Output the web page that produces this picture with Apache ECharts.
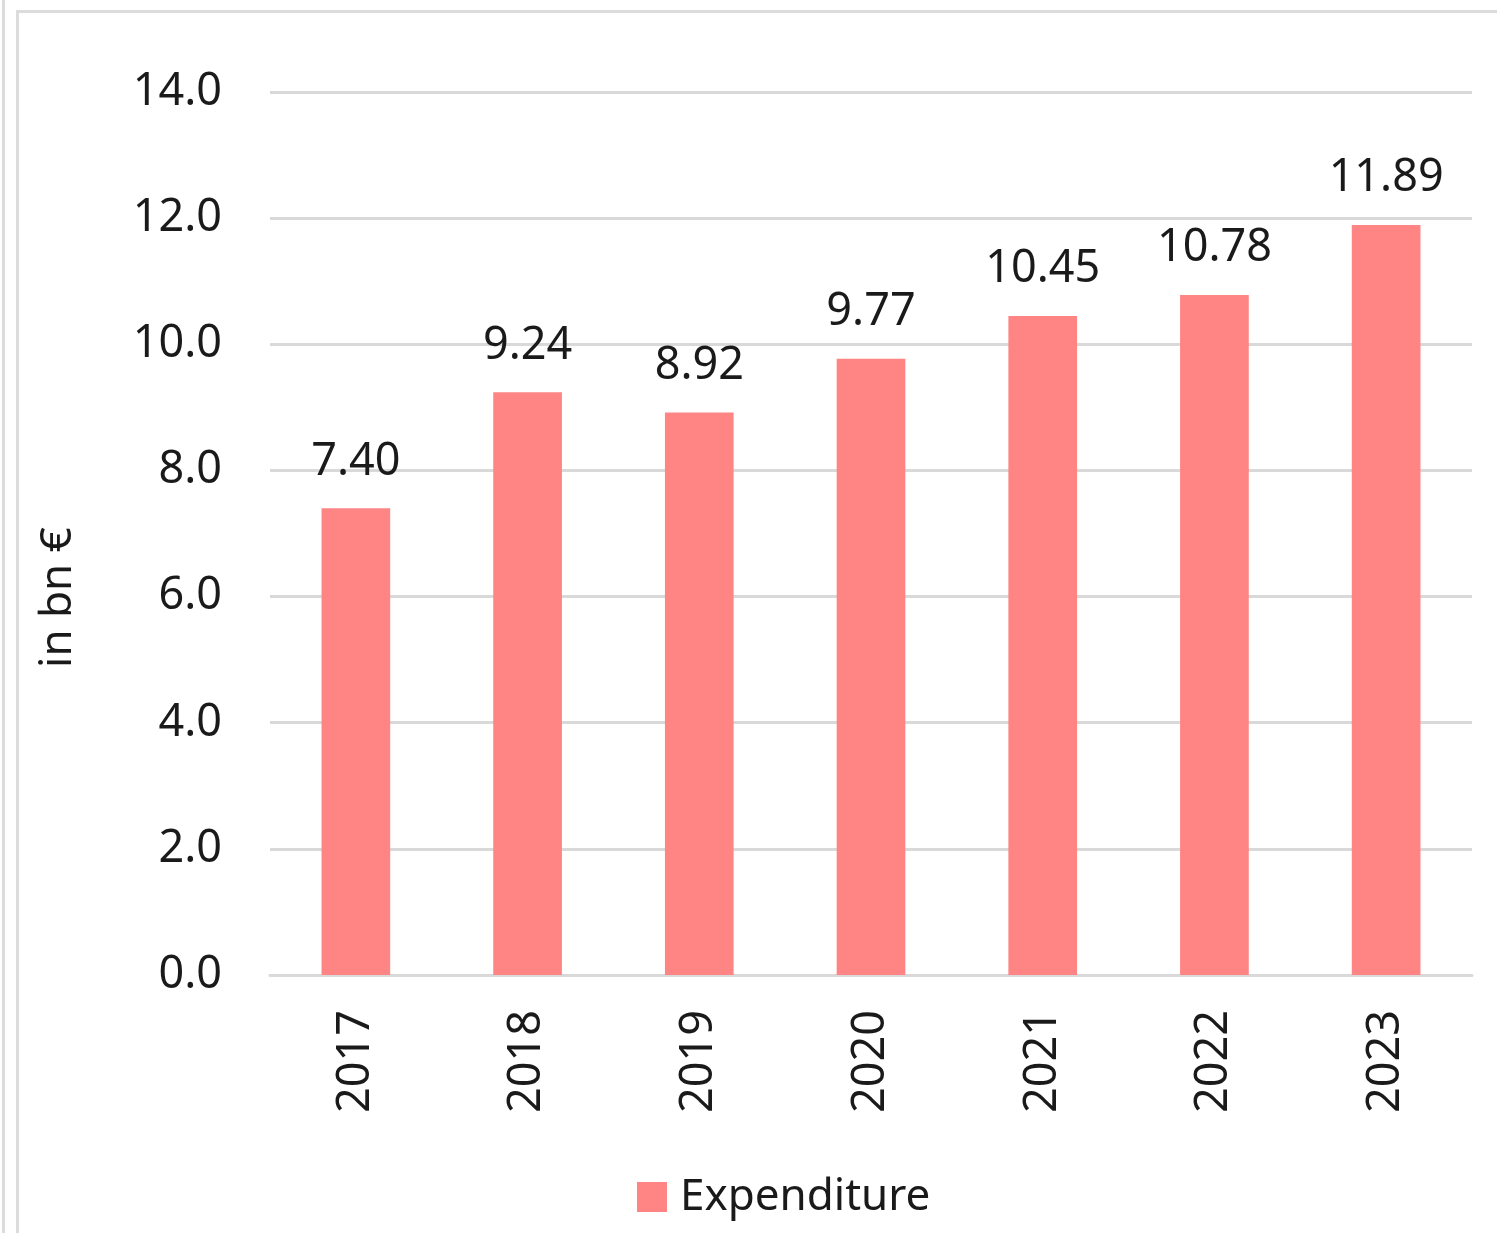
<!DOCTYPE html>
<html>
<head>
<meta charset="utf-8">
<script src="https://cdn.jsdelivr.net/npm/echarts@6/dist/echarts.min.js"></script>
<style>
  html, body { margin: 0; padding: 0; background: #fff; }
  #main { width: 1497px; height: 1233px; }
  .edge { position: absolute; background: #dcdcdc; }
</style>
</head>
<body>
<div id="main"></div>
<div class="edge" style="left:2px;top:0;width:3px;height:1233px;"></div>
<div class="edge" style="left:16px;top:10px;width:3px;height:1223px;"></div>
<div class="edge" style="left:16px;top:10px;width:1481px;height:3px;"></div>
<script>
// values
const years = ['2017', '2018', '2019', '2020', '2021', '2022', '2023'];
const expenditure = [7.40, 9.24, 8.92, 9.77, 10.45, 10.78, 11.89];

const font = 'Noto Sans';
let chart = echarts.init(document.getElementById('main'));
let option = {
  animation: false,
  legend: {
    left: 632,
    top: 1170,
    itemWidth: 30,
    itemHeight: 30,
    icon: 'rect',
    textStyle: { fontFamily: font, fontSize: 44, color: '#1a1a1a', padding: [0, 0, 0, 8] },
    data: ['Expenditure']
  },
  grid: { left: 270, right: 25, top: 92, bottom: 258 },
  xAxis: {
    type: 'category',
    data: years,
    axisLine: { lineStyle: { color: '#d9d9d9', width: 3 } },
    axisTick: { show: false },
    axisLabel: { rotate: 90, margin: 35, fontFamily: font, fontSize: 45, color: '#1a1a1a' }
  },
  yAxis: {
    type: 'value',
    min: 0,
    max: 14,
    interval: 2,
    name: 'in bn €',
    nameLocation: 'middle',
    nameGap: 190,
    nameTextStyle: { fontFamily: font, fontSize: 44, color: '#1a1a1a', padding: [0, 128, 0, 0] },
    axisLabel: {
      margin: 48,
      fontFamily: font, fontSize: 45, color: '#1a1a1a',
      formatter: function (v) { return v.toFixed(1); }
    },
    splitLine: { lineStyle: { color: '#d9d9d9', width: 3 } }
  },
  series: [
    {
      name: 'Expenditure',
      type: 'bar',
      data: expenditure,
      barWidth: '40%',
      itemStyle: { color: '#ff8585' },
      label: {
        show: true,
        position: 'top',
        distance: 24,
        fontFamily: font, fontSize: 45, color: '#1a1a1a',
        formatter: function (p) { return p.value.toFixed(2); }
      }
    }
  ]
};
chart.setOption(option);
</script>
</body>
</html>
